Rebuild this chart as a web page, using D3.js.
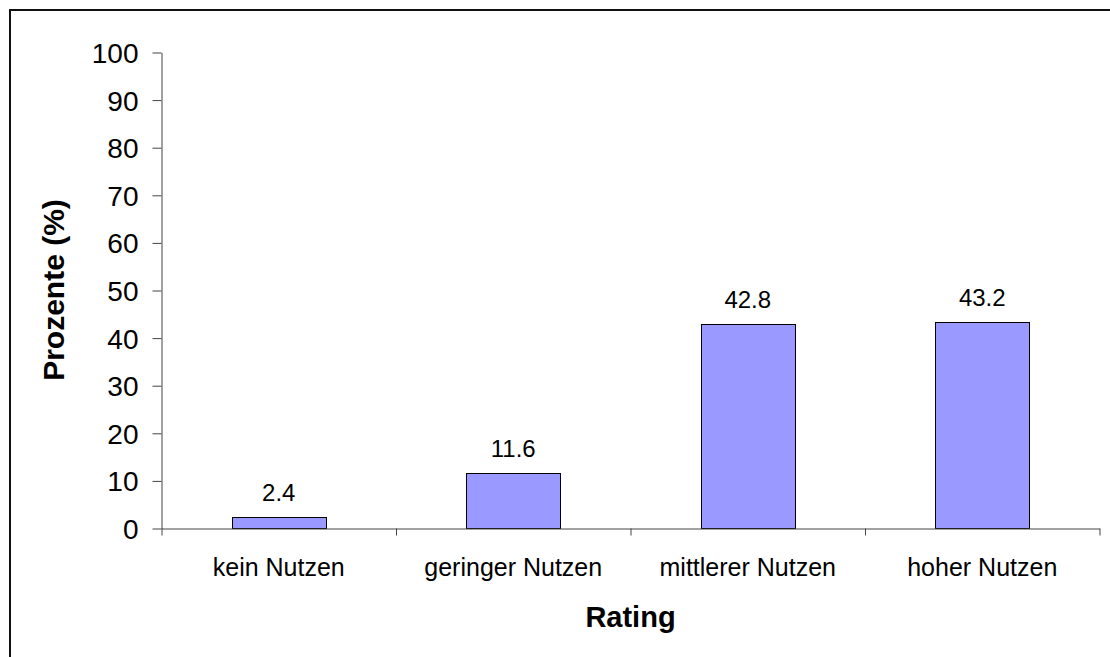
<!DOCTYPE html>
<html>
<head>
<meta charset="utf-8">
<script src="https://cdn.jsdelivr.net/npm/d3@7"></script>
<style>
  body { margin: 0; background: #fff; }
  svg { display: block; font-family: Arial, "Liberation Sans", sans-serif; }
</style>
</head>
<body>
<div id="area"></div>
<script>
const categories = ["kein Nutzen", "geringer Nutzen", "mittlerer Nutzen", "hoher Nutzen"]
const values = [2.4, 11.6, 42.8, 43.2]
const yTicks = [0, 10, 20, 30, 40, 50, 60, 70, 80, 90, 100]
const yTitle = "Prozente (%)"
const xTitle = "Rating"

const width = 1110
const height = 657
const plot = {left: 161.5, right: 1099.5, top: 52, bottom: 528}

const svg = d3.select("#area").append("svg")
    .attr("width", width)
    .attr("height", height)

// outer frame (runs past the right and bottom edge like the picture)
svg.append("rect")
    .attr("x", 10).attr("y", 10)
    .attr("width", 1200).attr("height", 800)
    .attr("fill", "none")
    .attr("stroke", "#111")
    .attr("stroke-width", 2)

const y = d3.scaleLinear().domain([0, 100]).range([plot.bottom, plot.top])
const x = d3.scaleBand().domain(categories)
    .range([plot.left, plot.right])
    .paddingInner(0.6).paddingOuter(0.3)
const xEdge = d3.scaleLinear().domain([0, categories.length]).range([plot.left, plot.right])

// bars
svg.append("g")
    .selectAll("rect")
    .data(values)
    .join("rect")
    .attr("x", (d, i) => Math.round(x(categories[i])) + 0.5)
    .attr("y", d => Math.round(y(d)) + 0.5)
    .attr("width", Math.round(x.bandwidth()))
    .attr("height", d => Math.round(y(0)) - Math.round(y(d)))
    .attr("fill", "#9999ff")
    .attr("stroke", "#000")
    .attr("stroke-width", 1)

// y axis
const yAxis = svg.append("g")
    .attr("transform", `translate(${plot.left},0.5)`)
    .call(d3.axisLeft(y).tickValues(yTicks).tickSize(9).tickSizeOuter(0).tickPadding(14))
yAxis.select(".domain").attr("stroke", "#444")
yAxis.selectAll(".tick line").attr("stroke", "#444")
yAxis.selectAll(".tick text")
    .attr("font-size", 28)
    .attr("font-family", "Arial, 'Liberation Sans', sans-serif")
    .attr("fill", "#000")
    .attr("dy", "0.36em")

// x axis: line plus ticks on the category borders
const xAxis = svg.append("g")
    .attr("transform", `translate(0,${plot.bottom + 0.5})`)
    .call(d3.axisBottom(xEdge).tickValues(d3.range(categories.length + 1)).tickFormat("").tickSize(7).tickSizeOuter(0))
xAxis.select(".domain").attr("stroke", "#444")
xAxis.selectAll(".tick line").attr("stroke", "#444")

// category labels
svg.append("g")
    .selectAll("text")
    .data(categories)
    .join("text")
    .attr("x", d => x(d) + x.bandwidth() / 2)
    .attr("y", 576)
    .attr("text-anchor", "middle")
    .attr("font-size", 25)
    .text(d => d)

// value labels
svg.append("g")
    .selectAll("text")
    .data(values)
    .join("text")
    .attr("x", (d, i) => x(categories[i]) + x.bandwidth() / 2)
    .attr("y", d => y(d) - 16)
    .attr("text-anchor", "middle")
    .attr("font-size", 24)
    .text(d => d.toFixed(1))

// titles
svg.append("text")
    .attr("transform", `translate(64,${(plot.top + plot.bottom) / 2}) rotate(-90)`)
    .attr("text-anchor", "middle")
    .attr("font-size", 30)
    .attr("font-weight", "bold")
    .text(yTitle)

svg.append("text")
    .attr("x", (plot.left + plot.right) / 2)
    .attr("y", 627)
    .attr("text-anchor", "middle")
    .attr("font-size", 29)
    .attr("font-weight", "bold")
    .text(xTitle)
</script>
</body>
</html>
